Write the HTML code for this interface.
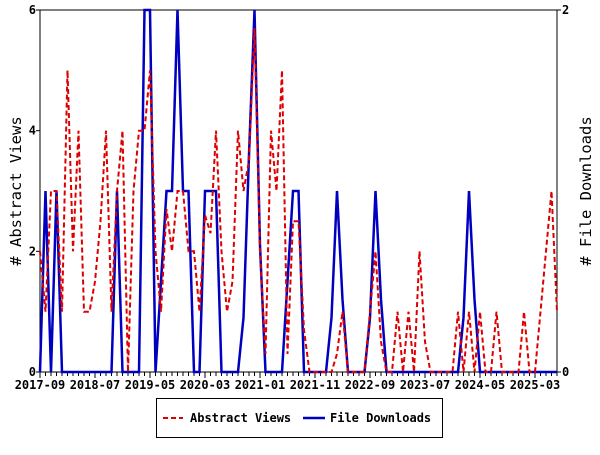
<!DOCTYPE html>
<html><head><meta charset="utf-8"><style>
body{margin:0;background:#fff;}
svg text{font-family:"DejaVu Sans Mono","Liberation Mono",monospace;font-weight:bold;font-size:12px;fill:#000;}
svg text.ttl{font-weight:normal;font-size:15.5px;}
</style></head><body>
<svg id="chart" width="600" height="450" xmlns="http://www.w3.org/2000/svg">
<g id="grid"></g>
</svg>
<script>
const xLabels=["2017-09","2018-07","2019-05","2020-03","2021-01","2021-11","2022-09","2023-07","2024-05","2025-03"];
const yLeftTicks=[0,2,4,6];
const yRightTicks=[0,2];
const abstractViews=[2,1,3,3,1,5,2,4,1,1,1.5,2.5,4,1,3,4,0,3,4,4,5,2,1,2.7,2,3,3,2,2,1,2.6,2.3,4,2,1,1.5,4,3,3.5,5.7,2,0.3,4,3,5,0.3,2.5,2.5,0.7,0,0,0,0,0,0.3,1,0,0,0,0,1,2,0.5,0,0,1,0,1,0,2,0.5,0,0,0,0,0,1,0,1,0,1,0,0,1,0,0,0,0,1,0,0,1,2,3,1];
const fileDownloads=[0,1,0,1,0,0,0,0,0,0,0,0,0,0,1,0,0,0,0,2,2,0,0.5,1,1,2,1,1,0,0,1,1,1,0,0,0,0,0.3,1.2,2,0.7,0,0,0,0,0.5,1,1,0,0,0,0,0,0.3,1,0.4,0,0,0,0,0.3,1,0.4,0,0,0,0,0,0,0,0,0,0,0,0,0,0,0.3,1,0.4,0,0,0,0,0,0,0,0,0,0,0,0,0,0,0];
const NS="http://www.w3.org/2000/svg";
const svg=document.getElementById('chart');
const X0=40,X1=557,Y0=372,Y1=10,PX=5.5;
const nMonths=abstractViews.length;
function xs(i){return X0+i*PX;}
function yl(v){return Y0-(Y0-Y1)*v/6;}
function yr(v){return Y0-(Y0-Y1)*v/2;}
function mk(tag,attrs){const e=document.createElementNS(NS,tag);for(const k in attrs)e.setAttribute(k,attrs[k]);svg.appendChild(e);return e;}
let f=mk('rect',{x:X0,y:Y1,width:X1-X0,height:Y0-Y1,fill:'none',stroke:'#000','stroke-width':1});


for(let i=0;i<nMonths;i++){
  const major=i%10===0;
  const t=mk('line',{x1:xs(i),x2:xs(i),y1:Y0,y2:Y0+(major?6:4),stroke:'#000'});
  
  
}
xLabels.forEach((lab,j)=>{
  const t=mk('text',{x:xs(j*10),y:Y0+17,'text-anchor':'middle'});t.textContent=lab;
  
  
});
yLeftTicks.forEach(v=>{
  const l=mk('line',{x1:X0-4,x2:X0,y1:yl(v),y2:yl(v),stroke:'#000'});
  
  
  const t=mk('text',{x:X0-4,y:yl(v)+4,'text-anchor':'end'});t.textContent=v;
  
  
});
yRightTicks.forEach(v=>{
  const l=mk('line',{x1:X1,x2:X1+4,y1:yr(v),y2:yr(v),stroke:'#000'});
  
  
  const t=mk('text',{x:X1+5,y:yr(v)+4,'text-anchor':'start'});t.textContent=v;
  
  
});
function pts(arr,yf){return arr.map((v,i)=>xs(i).toFixed(1)+','+yf(v).toFixed(1)).join(' ');}
let p1=mk('polyline',{points:pts(fileDownloads,yr),fill:'none',stroke:'#0000c0','stroke-width':2.5});


let p2=mk('polyline',{points:pts(abstractViews,yl),fill:'none',stroke:'#dd0000','stroke-width':2,'stroke-dasharray':'5,3'});


let yt=mk('text',{x:0,y:0,'text-anchor':'middle',transform:'translate(21,191) rotate(-90)','class':'ttl'});yt.textContent='# Abstract Views';


let yt2=mk('text',{x:0,y:0,'text-anchor':'middle',transform:'translate(591,191) rotate(-90)','class':'ttl'});yt2.textContent='# File Downloads';


let lb=mk('rect',{x:156.5,y:398.5,width:286,height:39,fill:'#fff',stroke:'#000'});


let l1=mk('line',{x1:163,x2:183,y1:418,y2:418,stroke:'#dd0000','stroke-width':2,'stroke-dasharray':'5,3'});


let t1=mk('text',{x:190,y:422});t1.textContent='Abstract Views';


let l2=mk('line',{x1:303,x2:325,y1:418,y2:418,stroke:'#0000c0','stroke-width':2.5});


let t2=mk('text',{x:330,y:422});t2.textContent='File Downloads';


</script>
</body></html>
